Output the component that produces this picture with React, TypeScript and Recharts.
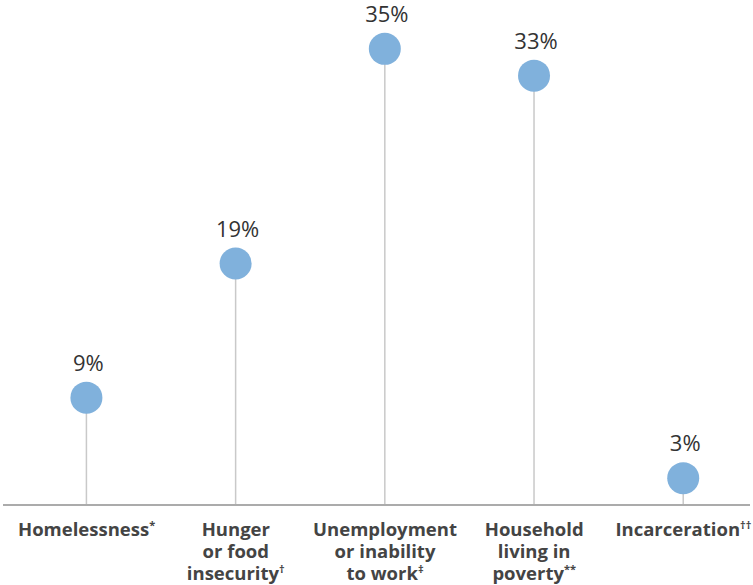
import { BarChart, Bar, XAxis, YAxis } from 'recharts'

const categories = ['Homelessness', 'Hunger or food insecurity', 'Unemployment or inability to work', 'Household living in poverty', 'Incarceration']
const tickLines = [
  ['Homelessness'],
  ['Hunger', 'or food', 'insecurity'],
  ['Unemployment', 'or inability', 'to work'],
  ['Household', 'living in', 'poverty'],
  ['Incarceration'],
]
const footnoteMarks = ['*', '†', '‡', '**', '††']
const percents = [9, 19, 35, 33, 3]

const data = categories.map((name, i) => ({ name, value: percents[i], idx: i }))

const FONT = '"Open Sans", sans-serif'
const DOT = '#80b1dc'

// stem + dot + value label drawn from the bar geometry
function Lollipop(props: any) {
  const { x, y, width, height, value } = props
  const cx = x + width / 2
  return (
    <g>
      <line x1={cx} y1={y} x2={cx} y2={y + height} stroke="#c9c9c9" strokeWidth={1.5} />
      <circle cx={cx} cy={y} r={16} fill={DOT} />
      <text x={cx + 2} y={y - 27} textAnchor="middle" fontFamily={FONT} fontSize={22} fill="#333">
        {value}%
      </text>
    </g>
  )
}

function CategoryTick(props: any) {
  const { x, y, payload } = props
  const i = payload.index
  const lines = tickLines[i]
  return (
    <g>
      {lines.map((ln, k) => (
        <text
          key={k}
          x={x}
          y={y + 31 + k * 22}
          textAnchor="middle"
          fontFamily={FONT}
          fontWeight={700}
          fontSize={18.5}
          fill="#444"
        >
          {ln}
          {k === lines.length - 1 && (
            <tspan dy={-7} fontSize={11}>{footnoteMarks[i]}</tspan>
          )}
        </text>
      ))}
    </g>
  )
}

export default function App() {
  return (
    <div style={{ position: 'absolute', left: 0, top: 0, width: 753, height: 585, background: '#fff' }}>
      <BarChart width={753} height={585} data={data} margin={{ top: 22, right: 3, bottom: 0, left: 3 }}>
        <XAxis
          dataKey="name"
          height={80}
          padding={{ left: 9, right: -8 }}
          axisLine={{ stroke: '#ababab', strokeWidth: 2 }}
          tickLine={false}
          tickSize={0}
          tickMargin={0}
          interval={0}
          tick={<CategoryTick />}
        />
        <YAxis hide domain={[1, 37]} />
        <Bar dataKey="value" isAnimationActive={false} shape={<Lollipop />} />
      </BarChart>
    </div>
  )
}
